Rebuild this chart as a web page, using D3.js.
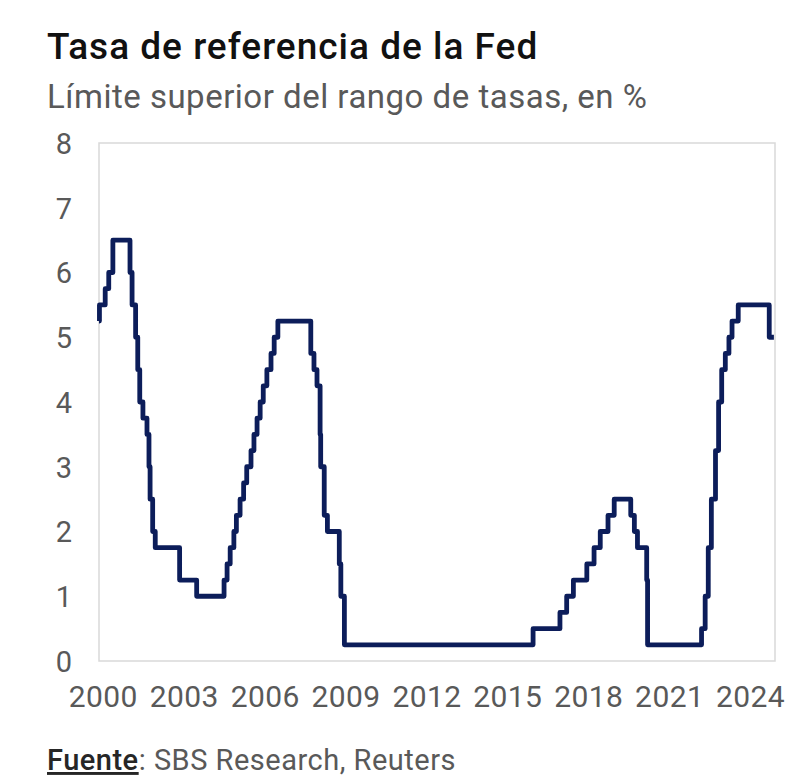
<!DOCTYPE html>
<html>
<head>
<meta charset="utf-8">
<script src="https://cdn.jsdelivr.net/npm/d3@7"></script>
<style>
  body { margin: 0; background: #fff; }
  text { font-family: Roboto, "Noto Sans", sans-serif; }
</style>
</head>
<body>
<script>
const width = 800;
const height = 784;
const plot = {left: 99, right: 775, top: 143, bottom: 661};

// upper bound of the fed funds target range, step changes
const rateDates = [
  '1999-11-10', '1999-11-16', '2000-02-02', '2000-03-21', '2000-05-16',
  '2001-01-03', '2001-01-31', '2001-03-20', '2001-04-18', '2001-05-15',
  '2001-06-27', '2001-08-21', '2001-09-17', '2001-10-02', '2001-11-06',
  '2001-12-11', '2002-11-06', '2003-06-25', '2004-06-30', '2004-08-10',
  '2004-09-21', '2004-11-10', '2004-12-14', '2005-02-02', '2005-03-22',
  '2005-05-03', '2005-06-30', '2005-08-09', '2005-09-20', '2005-11-01',
  '2005-12-13', '2006-01-31', '2006-03-28', '2006-05-10', '2006-06-29',
  '2007-09-18', '2007-10-31', '2007-12-11', '2008-01-22', '2008-01-30',
  '2008-03-18', '2008-04-30', '2008-10-08', '2008-10-29', '2008-12-16',
  '2015-12-16', '2016-12-14', '2017-03-15', '2017-06-14', '2017-12-13',
  '2018-03-21', '2018-06-13', '2018-09-26', '2018-12-19', '2019-07-31',
  '2019-09-18', '2019-10-30', '2020-03-03', '2020-03-15', '2022-03-16',
  '2022-05-04', '2022-06-15', '2022-07-27', '2022-09-21', '2022-11-02',
  '2022-12-14', '2023-02-01', '2023-03-22', '2023-05-03', '2023-07-26',
  '2024-09-18', '2024-11-20'
];
const rateValues = [
  5.25, 5.5, 5.75, 6.0, 6.5,
  6.0, 5.5, 5.0, 4.5, 4.0,
  3.75, 3.5, 3.0, 2.5, 2.0,
  1.75, 1.25, 1.0, 1.25, 1.5,
  1.75, 2.0, 2.25, 2.5, 2.75,
  3.0, 3.25, 3.5, 3.75, 4.0,
  4.25, 4.5, 4.75, 5.0, 5.25,
  4.75, 4.5, 4.25, 3.5, 3.0,
  2.25, 2.0, 1.5, 1.0, 0.25,
  0.5, 0.75, 1.0, 1.25, 1.5,
  1.75, 2.0, 2.25, 2.5, 2.25,
  2.0, 1.75, 1.25, 0.25, 0.5,
  1.0, 1.75, 2.5, 3.25, 4.0,
  4.5, 4.75, 5.0, 5.25, 5.5,
  5.0, 5.0
];
const yearTicks = [2000, 2003, 2006, 2009, 2012, 2015, 2018, 2021, 2024];
const rateTicks = [0, 1, 2, 3, 4, 5, 6, 7, 8];

const parse = d3.timeParse('%Y-%m-%d');
const data = rateDates.map((d, i) => ({date: parse(d), rate: rateValues[i]}));

const svg = d3.select('body').append('svg')
    .attr('width', width)
    .attr('height', height);

const xScale = d3.scaleTime()
    .domain([parse('1999-11-10'), parse('2024-12-05')])
    .range([plot.left, plot.right]);

const yScale = d3.scaleLinear()
    .domain([0, 8])
    .range([plot.bottom, plot.top]);

// frame
svg.append('rect')
    .attr('x', plot.left)
    .attr('y', plot.top)
    .attr('width', plot.right - plot.left)
    .attr('height', plot.bottom - plot.top)
    .attr('fill', 'none')
    .attr('stroke', '#d9d9d9')
    .attr('stroke-width', 1.5);

const yAxis = d3.axisLeft(yScale)
    .tickValues(rateTicks)
    .tickSize(0)
    .tickPadding(27);

svg.append('g')
    .attr('transform', `translate(${plot.left}, 0)`)
    .call(yAxis)
    .call(g => g.select('.domain').remove())
    .selectAll('text')
        .attr('fill', '#595959')
        .style('font-size', '29px')
        .attr('dy', '0.36em');

const xAxis = d3.axisBottom(xScale)
    .tickValues(yearTicks.map(y => new Date(y, 0, 1)))
    .tickFormat(d3.timeFormat('%Y'))
    .tickSize(0)
    .tickPadding(25);

svg.append('g')
    .attr('transform', `translate(0, ${plot.bottom})`)
    .call(xAxis)
    .call(g => g.select('.domain').remove())
    .selectAll('text')
        .attr('fill', '#595959')
        .style('font-size', '30px')
        .style('letter-spacing', '0.4px');

const line = d3.line()
    .x(d => xScale(d.date))
    .y(d => yScale(d.rate))
    .curve(d3.curveStepAfter);

svg.append('path')
    .datum(data)
    .attr('d', line)
    .attr('fill', 'none')
    .attr('stroke', '#0c1d5a')
    .attr('stroke-width', 4.8)
    .attr('stroke-linejoin', 'round');

// titles
svg.append('text')
    .attr('x', 47)
    .attr('y', 59)
    .attr('fill', '#111')
    .style('font-size', '37px')
    .style('font-weight', 500)
    .style('letter-spacing', '1px')
    .text('Tasa de referencia de la Fed');

svg.append('text')
    .attr('x', 47)
    .attr('y', 108)
    .attr('fill', '#595959')
    .style('font-size', '33px')
    .style('letter-spacing', '0.5px')
    .text('Límite superior del rango de tasas, en %');

const source = svg.append('text')
    .attr('x', 47)
    .attr('y', 770)
    .attr('fill', '#595959')
    .style('font-size', '29px')
    .style('letter-spacing', '0.5px');
source.append('tspan')
    .attr('fill', '#262626')
    .style('font-weight', 500)
    .style('text-decoration', 'underline')
    .text('Fuente');
source.append('tspan')
    .text(': SBS Research, Reuters');
</script>
</body>
</html>
